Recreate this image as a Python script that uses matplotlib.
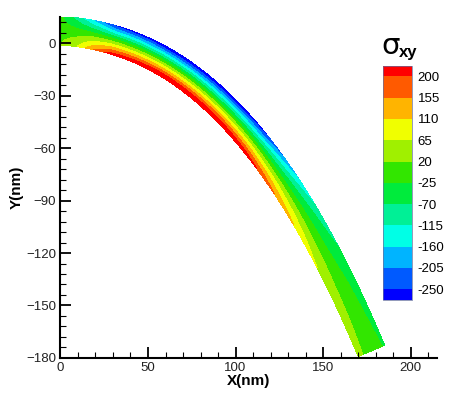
import numpy as np
import matplotlib
matplotlib.use('Agg')
import matplotlib.pyplot as plt
from matplotlib.colors import ListedColormap, BoundaryNorm
from matplotlib.colorbar import ColorbarBase

plt.rcParams['font.family'] = ['Liberation Sans', 'DejaVu Sans']

# beam centreline (nm)
cx = [0, 30, 54, 80, 109.5, 125, 163.6, 177.6]
cy = [7.6, 1.0, -8.5, -24.0, -54.5, -76.0, -146.5, -174.5]
half_thick = 8.2

# sigma_xy on the lower edge, centre line and upper edge at stations along x
st_x = [0, 10, 20, 30, 60, 95, 110, 120, 130, 140, 150, 160, 178]
sig_bot = [20, 60, 150, 220, 265, 260, 235, 195, 150, 110, 75, 50, 30]
sig_mid = [0, 0, 0, -5, -5, -5, -5, -10, -10, -10, -10, -5, 0]
sig_top = [-20, -100, -185, -265, -300, -295, -265, -210, -155, -105, -75, -50, -30]

levels = [-250, -205, -160, -115, -70, -25, 20, 65, 110, 155, 200]
colors = ['#0000ff', '#005aff', '#00b4ff', '#00ffe6', '#00f096', '#00eb3c',
          '#32e600', '#a0f000', '#f0ff00', '#ffb400', '#ff5a00', '#ff0000']

# mesh of the bent beam
p = np.polyfit(cx, cy, 3)
xs = np.linspace(cx[0], cx[-1], 300)
ys = np.polyval(p, xs)
dy = np.polyval(np.polyder(p), xs)
nrm = np.sqrt(1 + dy**2)
nx, ny = -dy / nrm, 1 / nrm
t = np.linspace(-1, 1, 61)
X = xs[None, :] + half_thick * t[:, None] * nx[None, :]
Y = ys[None, :] + half_thick * t[:, None] * ny[None, :]

b = np.interp(xs, st_x, sig_bot)
m = np.interp(xs, st_x, sig_mid)
u = np.interp(xs, st_x, sig_top)
tt = t[:, None]
S = np.where(tt < 0, m + (b - m) * (-tt), m + (u - m) * tt)

fig = plt.figure(figsize=(4.58, 3.94), dpi=100)
ax = fig.add_axes([0.132, 0.0914, 0.822, 0.866])
ax.contourf(X, Y, S, levels=[-1000] + levels + [1000], colors=colors)

ax.set_xlim(0, 215)
ax.set_ylim(-180, 15)
ax.spines['top'].set_visible(False)
ax.spines['right'].set_visible(False)
ax.spines['left'].set_linewidth(1.5)
ax.spines['bottom'].set_linewidth(1.5)
ax.set_xticks(np.arange(0, 201, 50))
ax.set_xticks(np.arange(0, 211, 10), minor=True)
ax.set_yticks(np.arange(-180, 1, 30))
ax.set_yticks(np.arange(-180, 13, 6), minor=True)
ax.tick_params(which='major', direction='in', length=8, width=1.3,
               labelsize=9.5, labelcolor='#222222', pad=3)
ax.tick_params(which='minor', direction='in', length=4, width=0.8)
ax.set_xlabel('X(nm)', fontsize=11, fontweight='bold', labelpad=0)
ax.set_ylabel('Y(nm)', fontsize=11, fontweight='bold', labelpad=2)

# legend bar
cax = fig.add_axes([0.836, 0.239, 0.064, 0.594])
bnds = [-272.5] + levels + [222.5]
cb = ColorbarBase(cax, cmap=ListedColormap(colors),
                  norm=BoundaryNorm(bnds, len(colors)),
                  boundaries=bnds, spacing='proportional', ticks=levels)
cb.outline.set_linewidth(0.5)
cb.outline.set_edgecolor('#6670a0')
cax.minorticks_off()
cax.tick_params(length=0, labelsize=9.5, pad=4)
cb.set_ticklabels([str(v) for v in levels])
fig.text(0.832, 0.862, 'σ', fontsize=21, family='DejaVu Sans')
fig.text(0.87, 0.855, 'xy', fontsize=12, fontweight='bold')

plt.savefig('out.png', dpi=100)
